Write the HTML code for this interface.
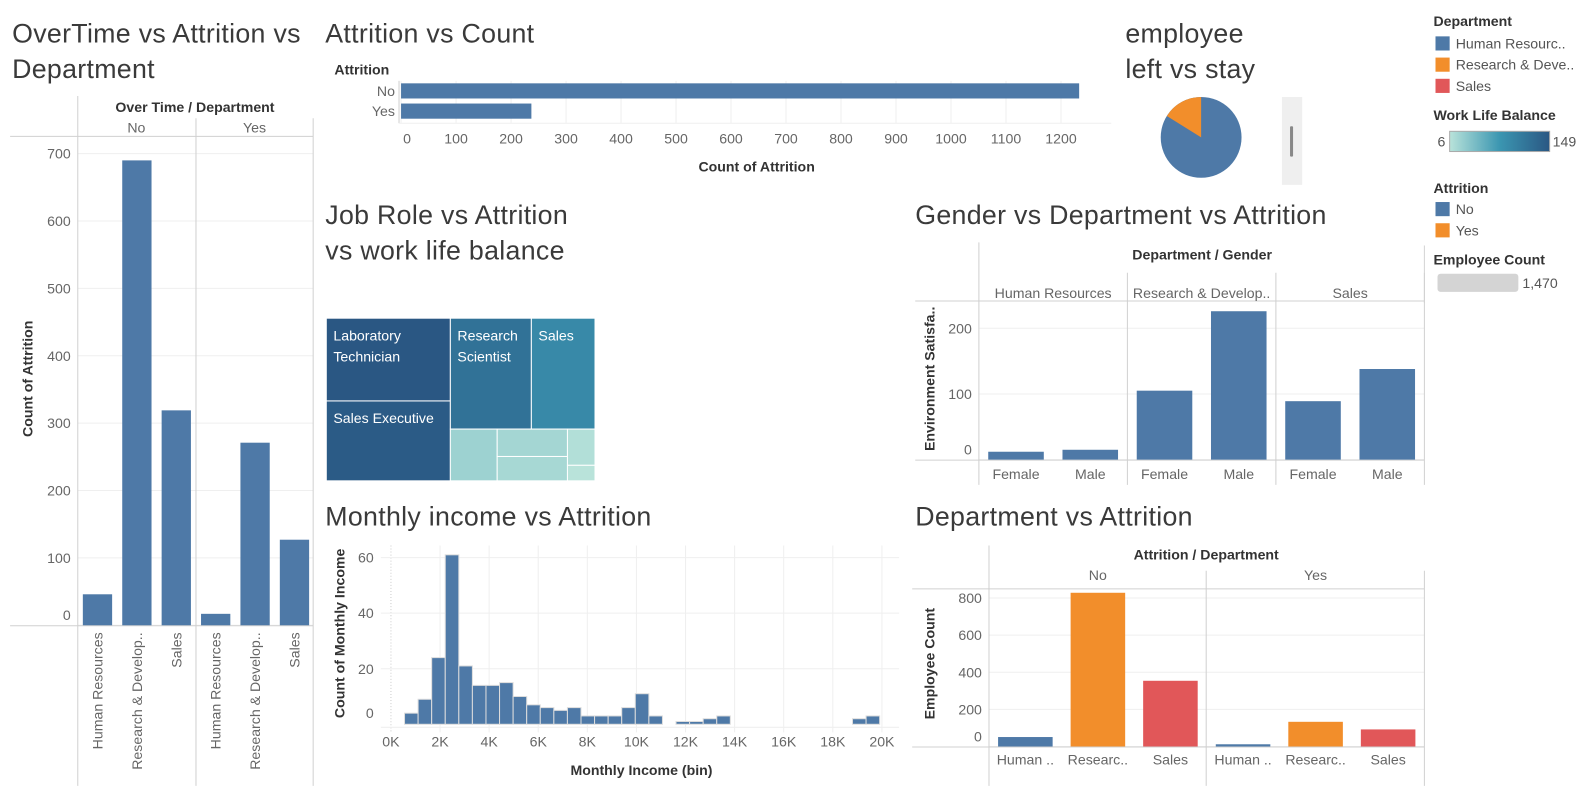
<!DOCTYPE html>
<html><head><meta charset="utf-8"><title>HR Attrition Dashboard</title>
<style>
html,body{margin:0;padding:0;background:#fff;}
svg{display:block;font-family:"Liberation Sans",sans-serif;}
</style></head>
<body>
<svg id="dash" width="1584" height="796" viewBox="0 0 1568 788" preserveAspectRatio="none" xmlns="http://www.w3.org/2000/svg">
<g fill="#3a3a3a" font-size="26.5" letter-spacing="0.3">
<text x="12" y="42">OverTime vs Attrition vs</text>
<text x="12" y="77">Department</text>
<text x="322" y="42">Attrition vs Count</text>
<text x="1114" y="42">employee</text>
<text x="1114" y="77">left vs stay</text>
<text x="322" y="222">Job Role vs Attrition</text>
<text x="322" y="257">vs work life balance</text>
<text x="906" y="222">Gender vs Department vs Attrition</text>
<text x="322" y="520">Monthly income vs Attrition</text>
<text x="906" y="520">Department vs Attrition</text>
</g>
<!-- legends -->
<g font-size="14" fill="#333">
<text x="1419" y="26" font-weight="bold">Department</text>
<rect x="1421" y="36" width="14" height="14" fill="#4e79a7"/>
<text x="1441" y="48" fill="#555">Human Resourc..</text>
<rect x="1421" y="57" width="14" height="14" fill="#f28e2b"/>
<text x="1441" y="69" fill="#555">Research &amp; Deve..</text>
<rect x="1421" y="78" width="14" height="14" fill="#e15759"/>
<text x="1441" y="90" fill="#555">Sales</text>
<text x="1419" y="119" font-weight="bold">Work Life Balance</text>
<defs><linearGradient id="wlbg" x1="0" x2="1" y1="0" y2="0"><stop offset="0" stop-color="#b9e3da"/><stop offset="0.5" stop-color="#3b96b1"/><stop offset="1" stop-color="#2a5783"/></linearGradient></defs>
<text x="1423" y="145" fill="#555">6</text>
<rect x="1435" y="130" width="99" height="20" fill="url(#wlbg)" stroke="#aaa"/>
<text x="1537" y="145" fill="#555">149</text>
<text x="1419" y="191" font-weight="bold">Attrition</text>
<rect x="1421" y="200" width="14" height="14" fill="#4e79a7"/>
<text x="1441" y="212" fill="#555">No</text>
<rect x="1421" y="221" width="14" height="14" fill="#f28e2b"/>
<text x="1441" y="233" fill="#555">Yes</text>
<text x="1419" y="262" font-weight="bold">Employee Count</text>
<rect x="1423" y="271" width="80" height="18" rx="3" fill="#d4d4d4"/>
<text x="1507" y="285" fill="#555">1,470</text>
<line x1="1410" y1="243" x2="1410" y2="300" stroke="#d4d4d4"/>
</g>
<rect x="1269" y="96" width="20" height="87" fill="#efefef"/>
<rect x="1277" y="125" width="3" height="30" rx="1" fill="#888"/>
</svg>
<script>
// ---------- data ----------
const deptNames = ['Human Resources','Research & Develop..','Sales'];
const deptShort = ['Human ..','Researc..','Sales'];
const overtimeNo = [46,690,319];
const overtimeYes = [17,271,127];
const overtimeTicks = [0,100,200,300,400,500,600,700];

const attritionCats = ['No','Yes'];
const attritionCounts = [1233,237];
const attritionTicks = [0,100,200,300,400,500,600,700,800,900,1000,1100,1200];

const jobRoles = ['Laboratory Technician','Sales Executive','Research Scientist','Sales','Human Resources','Manufacturing Director','Healthcare Representative','Manager','Research Director'];
const roleSizes = [144,139,126,99,34,27,24,14,6];
const roleWLB = [149,145,118,92,22,18,16,10,6];

const genderCats = ['Female','Male'];
const genderHR = [12,15];
const genderRD = [105,226];
const genderSales = [89,138];
const genderTicks = [0,100,200];

const incomeBinSizeK = 0.553;
const incomeCounts = [0,4,9,24,61,21,14,14,15,10,7,6,5,6,3,3,3,6,11,3,0,1,1,2,3,0,0,0,0,0,0,0,0,0,2,3];
const incomeYTicks = [0,20,40,60];
const incomeXTicks = [0,2,4,6,8,10,12,14,16,18,20];

const deptAttrNo = [51,828,354];
const deptAttrYes = [12,133,92];
const deptTicks = [0,200,400,600,800];
const deptColors = ['#4e79a7','#f28e2b','#e15759'];

// ---------- helpers ----------
const NS = 'http://www.w3.org/2000/svg';
const svg = document.getElementById('dash');
function mk(tag, attrs){ const e=document.createElementNS(NS,tag); for(const k in attrs) e.setAttribute(k,attrs[k]); svg.appendChild(e); return e; }
function txt(x,y,s,size,fill,anchor,weight,rot){
  const a={x:x,y:y,'font-size':size,fill:fill,'text-anchor':anchor||'start'};
  if(weight) a['font-weight']=weight;
  if(rot) a.transform='rotate('+rot+' '+x+' '+y+')';
  const e=mk('text',a); e.textContent=s; return e;
}
function ln(x1,y1,x2,y2,c){ return mk('line',{x1:x1,y1:y1,x2:x2,y2:y2,stroke:c,'stroke-width':1}); }
const BLUE='#4e79a7', GRID='#efefef', AX='#d0d0d0', TK='#666';
let e;

// ---------- chart 1: overtime ----------
const oy = v => 619 - v*0.667;
for(const t of overtimeTicks){
  e=ln(77,oy(t),310,oy(t),GRID);
  
  
  e=txt(70,(t===0?oy(t)-5:oy(t)+5),String(t),14,TK,'end');
  
  
}
e=ln(10,135,310,135,AX);  
e=ln(10,619.5,310,619.5,AX);  
for(const x of [77,194,310]){ e=ln(x,x===77?95:117,x,778,AX);   }
e=txt(193,111,'Over Time  /  Department',14,'#333','middle','bold');  
e=txt(135,131,'No',14,TK,'middle');  
e=txt(252,131,'Yes',14,TK,'middle');  
e=txt(32,375,'Count of Attrition',14,'#333','middle','bold',-90);  
[overtimeNo,overtimeYes].forEach((series,p)=>{
  series.forEach((v,i)=>{
    const cx=77+p*117+19.5+i*39;
    e=mk('rect',{x:cx-14.5,y:oy(v),width:29,height:619-oy(v),fill:BLUE});
    
    
    e=txt(cx+5,626,deptNames[i],14,TK,'end',null,-90);
    
    
  });
});

// ---------- chart 2: attrition count ----------
const ax = v => 397 + v*0.5444;
for(const t of attritionTicks){
  e=ln(ax(t),80,ax(t),122,GRID);  
  e=txt(ax(t)+(t===0?6:0),142,String(t),14,TK,'middle');  
}
e=ln(395,80,395,122,AX);  
e=ln(395,122,1100,122,GRID);  
e=txt(331,74,'Attrition',14,'#333','start','bold');  
e=txt(749,170,'Count of Attrition',14,'#333','middle','bold');  
attritionCounts.forEach((v,i)=>{
  const cy=90+i*20;
  e=mk('rect',{x:ax(0),y:cy-7.5,width:ax(v)-ax(0),height:15,fill:BLUE});
  
  
  e=txt(391,cy+5,attritionCats[i],14,TK,'end');  
});

// ---------- pie ----------
(function(){
  const cx=1189, cy=136, r=40, total=attritionCounts[0]+attritionCounts[1];
  const ang=attritionCounts[1]/total*2*Math.PI;
  const px=cx-r*Math.sin(ang), py=cy-r*Math.cos(ang);
  e=mk('circle',{cx:cx,cy:cy,r:r,fill:BLUE});  
  e=mk('path',{d:'M'+cx+' '+cy+' L'+cx+' '+(cy-r)+' A'+r+' '+r+' 0 0 0 '+px+' '+py+' Z',fill:'#f28e2b'});
   
})();

// ---------- treemap ----------
(function(){
  function col(v){
    const t=(v-6)/(149-6);
    const stops=[[0,[185,227,218]],[0.5,[59,150,177]],[1,[42,87,131]]];
    let a=stops[0],b=stops[1]; if(t>0.5){a=stops[1];b=stops[2];}
    const f=(t-a[0])/(b[0]-a[0]);
    const c=a[1].map((x,k)=>Math.round(x+(b[1][k]-x)*f));
    return 'rgb('+c.join(',')+')';
  }
  const tree={dir:'h',kids:[{dir:'v',kids:[0,1]},{dir:'v',kids:[{dir:'h',kids:[2,3]},{dir:'h',kids:[4,{dir:'v',kids:[5,6]},{dir:'v',kids:[7,8]}]}]}]};
  const sum=n=>typeof n==='number'?roleSizes[n]:n.kids.reduce((s,k)=>s+sum(k),0);
  function lay(n,x,y,w,h){
    if(typeof n==='number'){
      e=mk('rect',{x:x,y:y,width:w,height:h,fill:col(roleWLB[n]),stroke:'#fff','stroke-width':1});
      
      
      if(w>50&&h>30){
        const words=jobRoles[n]==='Sales Executive'?['Sales Executive']:jobRoles[n].split(' ');
        words.forEach((wd,k)=>{
          e=txt(x+7,y+22+k*21,wd,14,'#fff');
          
          
        });
      }
      return;
    }
    const tot=sum(n); let off=0;
    n.kids.forEach(k=>{
      const f=sum(k)/tot;
      if(n.dir==='h'){ lay(k,x+off,y,w*f,h); off+=w*f; }
      else { lay(k,x,y+off,w,h*f); off+=h*f; }
    });
  }
  lay(tree,323,315,266,161);
})();

// ---------- gender chart ----------
const gy = v => 455 - v*0.65;
for(const t of genderTicks){
  e=ln(969,gy(t),1410,gy(t),GRID);  
  e=txt(962,(t===0?gy(t)-5:gy(t)+5),String(t),14,TK,'end');  
}
e=ln(906,298,1410,298,AX);  
e=ln(906,455.5,1410,455.5,AX);  
[969,1116,1263,1410].forEach((x,i)=>{ e=ln(x,i===0?240:270,x,480,AX);   });
e=txt(1190,257,'Department  /  Gender',14,'#333','middle','bold');  
e=txt(925,375,'Environment Satisfa..',14,'#333','middle','bold',-90);  
[genderHR,genderRD,genderSales].forEach((series,p)=>{
  const px=969+p*147;
  e=txt(px+73.5,295,['Human Resources','Research & Develop..','Sales'][p],14,TK,'middle');  
  series.forEach((v,i)=>{
    const cx=px+36.75+i*73.5;
    e=mk('rect',{x:cx-27.5,y:gy(v),width:55,height:455-gy(v),fill:BLUE});
    
    
    e=txt(cx,474,genderCats[i],14,TK,'middle');  
  });
});

// ---------- income histogram ----------
const hx = k => 387 + k*24.3;
const hy = v => 717 - v*2.75;
for(const t of incomeXTicks){
  e=ln(hx(t),540,hx(t),725,t===0?'#ccc':GRID); if(t===0) e.setAttribute('stroke-dasharray','1,2');
   
  e=txt(hx(t),739,t+'K',14,TK,'middle');  
}
for(const t of incomeYTicks){
  e=ln(377,hy(t)+(t===0?3:0),890,hy(t)+(t===0?3:0),GRID);  
  e=txt(370,(t===0?hy(t)-6:hy(t)+5),String(t),14,TK,'end');  
}
incomeCounts.forEach((v,i)=>{
  if(v<=0) return;
  const x0=hx(i*incomeBinSizeK), x1=hx((i+1)*incomeBinSizeK);
  e=mk('rect',{x:x0,y:hy(v),width:x1-x0,height:hy(0)-hy(v),fill:BLUE,stroke:'#ddd','stroke-width':1});
  
  
});
e=txt(341,627,'Count of Monthly Income',14,'#333','middle','bold',-90);  
e=txt(635,767,'Monthly Income (bin)',14,'#333','middle','bold');  

// ---------- department vs attrition ----------
const dy = v => 739 - v*0.1838;
for(const t of deptTicks){
  e=ln(979,dy(t),1410,dy(t),GRID);  
  e=txt(972,(t===0?dy(t)-5:dy(t)+5),String(t),14,TK,'end');  
}
e=ln(903,583,1410,583,AX);  
e=ln(903,739.5,1410,739.5,AX);  
[979,1194,1410].forEach((x,i)=>{ e=ln(x,i===0?540:565,x,778,AX);   });
e=txt(1194,554,'Attrition  /  Department',14,'#333','middle','bold');  
e=txt(925,657,'Employee Count',14,'#333','middle','bold',-90);  
[deptAttrNo,deptAttrYes].forEach((series,p)=>{
  const px=979+p*215.5;
  e=txt(px+107.75,574,attritionCats[p],14,TK,'middle');  
  series.forEach((v,i)=>{
    const cx=px+36+i*71.8;
    e=mk('rect',{x:cx-27,y:dy(v),width:54,height:739-dy(v),fill:deptColors[i]});
    
    
    e=txt(cx,757,deptShort[i],14,TK,'middle');  
  });
});
</script>
</body></html>
